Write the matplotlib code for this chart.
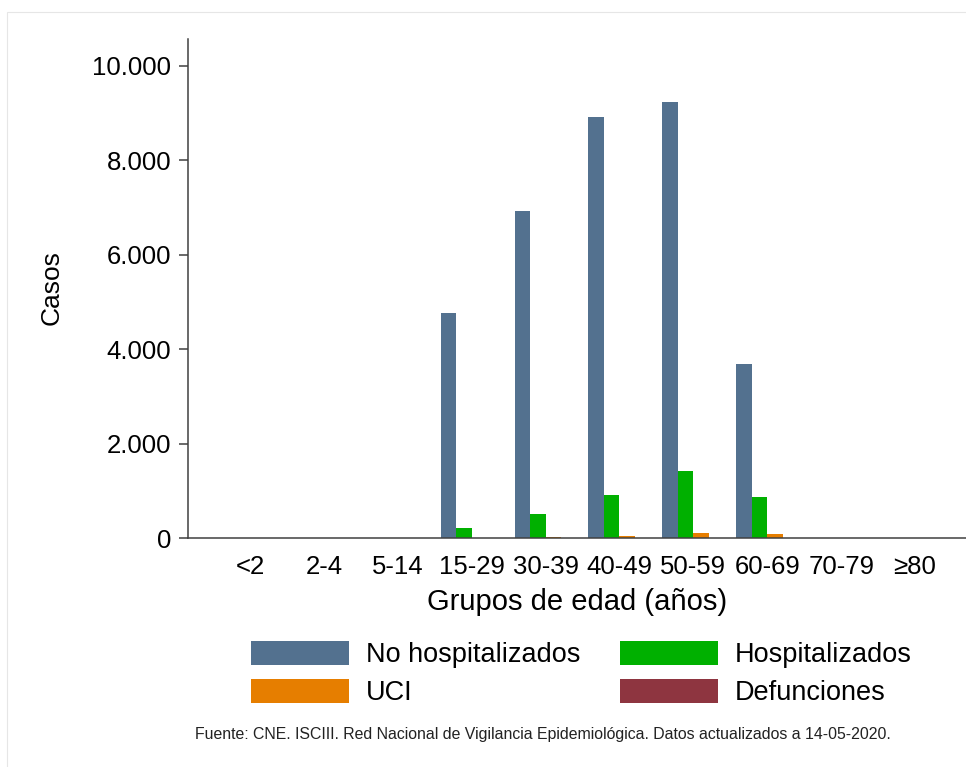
import numpy as np
import matplotlib
matplotlib.use("Agg")
import matplotlib.pyplot as plt
from matplotlib.patches import Rectangle
from matplotlib.ticker import FuncFormatter

plt.rcParams['font.family'] = ['Liberation Sans', 'DejaVu Sans']

groups = ["<2", "2-4", "5-14", "15-29", "30-39", "40-49", "50-59", "60-69", "70-79", "≥80"]
no_hosp = [0, 0, 0, 4770, 6935, 8915, 9245, 3690, 0, 0]
hosp = [0, 0, 0, 220, 508, 911, 1420, 875, 0, 0]
uci = [0, 0, 0, 3, 12, 45, 105, 92, 0, 0]
defunciones = [0, 0, 0, 0, 2, 4, 8, 10, 0, 0]

series = [
    ("No hospitalizados", no_hosp, "#53718f"),
    ("Hospitalizados", hosp, "#00b000"),
    ("UCI", uci, "#e67e00"),
    ("Defunciones", defunciones, "#8e3540"),
]

W, H = 966, 767
fig = plt.figure(figsize=(W / 100, H / 100), dpi=100)
ax = fig.add_axes([188 / W, 1 - 538 / H, (W - 188) / W, (538 - 39) / H])

x = np.arange(len(groups))
w = 0.21
handles = []
for i, (name, vals, col) in enumerate(series):
    b = ax.bar(x + (i - 1.5) * w, vals, w, color=col, label=name, zorder=2)
    handles.append(b)

ax.set_xlim(-0.84, 9.69)
ax.set_ylim(0, 10572)
ax.set_yticks([0, 2000, 4000, 6000, 8000, 10000])
ax.yaxis.set_major_formatter(FuncFormatter(lambda v, p: f"{int(v):,}".replace(",", ".")))
ax.set_xticks(x)
ax.set_xticklabels(groups)

for s in ["top", "right"]:
    ax.spines[s].set_visible(False)
for s in ["left", "bottom"]:
    ax.spines[s].set_color("#404040")
    ax.spines[s].set_linewidth(1.1)

ax.tick_params(axis="y", length=6.5, width=1.1, color="#404040", labelsize=18.5, pad=5.5)
ax.tick_params(axis="x", length=0, labelsize=18.5, pad=12)

ax.set_xlabel("Grupos de edad (años)", fontsize=21, labelpad=7)
ax.set_ylabel("Casos", fontsize=19, va="center")
ax.yaxis.set_label_coords(-0.175, 0.501)

# legend is filled row by row in the reference: reorder for matplotlib's column fill
order = [0, 2, 1, 3]
fig.legend(handles=[handles[k] for k in order], loc="center",
           bbox_to_anchor=(581.5 / W, 1 - 673.5 / H),
           ncol=2, frameon=False, fontsize=19.5, handlelength=3.6, handleheight=1.0,
           handletextpad=0.63, columnspacing=1.48, labelspacing=0.37, borderpad=0,
           borderaxespad=0)

fig.text(543 / W, 1 - 735 / H,
         "Fuente: CNE. ISCIII. Red Nacional de Vigilancia Epidemiológica. Datos actualizados a 14-05-2020.",
         ha="center", va="center", fontsize=11.4, color="#222222")

# light outer frame
fig.patches.append(Rectangle((7 / W, -0.1), 1.2, 1 - 12 / H + 0.1, transform=fig.transFigure,
                             fill=False, edgecolor="#e6e6e6", linewidth=0.8))

fig.savefig("out.png", dpi=100)
